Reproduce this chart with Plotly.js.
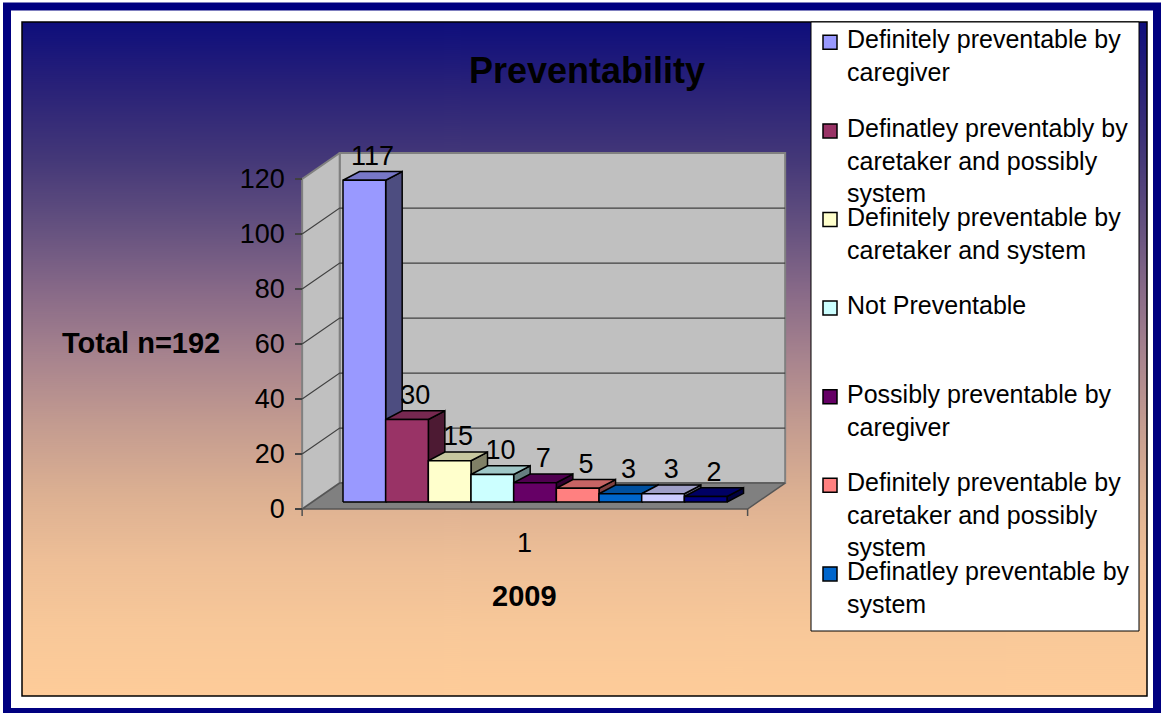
<!DOCTYPE html>
<html><head><meta charset="utf-8">
<script src="https://cdn.plot.ly/plotly-3.0.1.min.js"></script>
<style>html,body{margin:0;padding:0;background:#fff;}#chart{width:1163px;height:713px;}</style>
</head><body><div id="chart"></div>
<script>
// ---------- data ----------
const chartTitle = 'Preventability';
const categoryLabel = '1';
const yearLabel = '2009';
const totalLabel = 'Total n=192';
const seriesValues = [117, 30, 15, 10, 7, 5, 3, 3, 2];
const seriesColors = ['#9999FF', '#993366', '#FFFFCC', '#CCFFFF', '#660066', '#FF8080', '#0066CC', '#CCCCFF', '#000080'];
const legendNames = [
  'Definitely preventable by<br>caregiver',
  'Definatley preventably by<br>caretaker and possibly<br>system',
  'Definitely preventable by<br>caretaker and system',
  'Not Preventable',
  'Possibly preventable by<br>caregiver',
  'Definitely preventable by<br>caretaker and possibly<br>system',
  'Definatley preventable by<br>system'
];
const yTicks = [0, 20, 40, 60, 80, 100, 120];

// ---------- layout / geometry settings ----------
const W = 1163, H = 713;
const FONT = 'Liberation Sans, Arial, Helvetica, sans-serif';
const PXX = 42.67, PXY = 2.75;      // pixels per data unit
const ORIGX = 343, ORIGY = 502;     // pixel position of data origin
const xr = [-ORIGX / PXX, (W - ORIGX) / PXX];
const yr = [-(H - ORIGY) / PXY, ORIGY / PXY];
const DX = 0.88, DY = 9.45;         // full floor depth offsets
const FB = 0.27;                    // depth of bar plane
const GAP = 0.72;                   // floor gap at sides
const BDX = 0.387, BDY = 3.16;      // bar depth offsets
const yMax = yTicks[yTicks.length - 1];
const nBars = seriesValues.length;
const xl = -GAP, xrt = nBars + GAP;

function pt(x, v, d) { return [x + (d - FB) * DX, v + (d - FB) * DY]; }
function poly(points) {
  const xs = points.map(p => p[0]), ys = points.map(p => p[1]);
  xs.push(xs[0]); ys.push(ys[0]);
  return {x: xs, y: ys};
}
function shade(hex, f) {
  const n = parseInt(hex.slice(1), 16);
  const r = Math.round(((n >> 16) & 255) * f), g = Math.round(((n >> 8) & 255) * f), b = Math.round((n & 255) * f);
  return 'rgb(' + r + ',' + g + ',' + b + ')';
}
function face(points, fill, lineColor, lw) {
  const p = poly(points);
  return {type: 'scatter', mode: 'lines', x: p.x, y: p.y, fill: 'toself', fillcolor: fill,
    line: {color: lineColor, width: lw}, hoverinfo: 'skip', showlegend: false};
}

const traces = [];
// walls
traces.push(face([pt(xl, 0, 1), pt(xrt, 0, 1), pt(xrt, yMax, 1), pt(xl, yMax, 1)], '#C0C0C0', '#808080', 2));
traces.push(face([pt(xl, 0, 0), pt(xl, 0, 1), pt(xl, yMax, 1), pt(xl, yMax, 0)], '#C0C0C0', '#808080', 2));
traces.push(face([pt(xl, 0, 0), pt(xrt, 0, 0), pt(xrt, 0, 1), pt(xl, 0, 1)], '#808080', '#555555', 1.5));
// gridlines
const gx = [], gy = [];
yTicks.slice(1, -1).forEach(v => {
  const a = pt(xl, v, 0), b = pt(xl, v, 1), c = pt(xrt, v, 1);
  gx.push(a[0], b[0], c[0], null); gy.push(a[1], b[1], c[1], null);
});
traces.push({type: 'scatter', mode: 'lines', x: gx, y: gy, line: {color: '#404040', width: 1.2}, hoverinfo: 'skip', showlegend: false, connectgaps: false});
// bottom axis tick marks
const tickDrop = 7 / PXY;
const f0 = pt(xl, 0, 0), f1 = pt(xrt, 0, 0);
traces.push({type: 'scatter', mode: 'lines', x: [f0[0], f0[0], null, f1[0], f1[0]], y: [f0[1], f0[1] - tickDrop, null, f1[1], f1[1] - tickDrop],
  line: {color: '#505050', width: 1.5}, hoverinfo: 'skip', showlegend: false, connectgaps: false});
// bars
seriesValues.forEach((v, i) => {
  const c = seriesColors[i];
  traces.push(face([[i + 1, 0], [i + 1 + BDX, BDY], [i + 1 + BDX, v + BDY], [i + 1, v]], shade(c, 0.5), '#000', 1.5));
  traces.push(face([[i, v], [i + 1, v], [i + 1 + BDX, v + BDY], [i + BDX, v + BDY]], shade(c, 0.78), '#000', 1.5));
  traces.push(face([[i, 0], [i + 1, 0], [i + 1, v], [i, v]], c, '#000', 1.5));
});
// data labels
traces.push({type: 'scatter', mode: 'text', x: seriesValues.map((v, i) => i + 0.5 + BDX / 2), y: seriesValues.map(v => v + BDY),
  text: seriesValues.map(String), textposition: 'top center', textfont: {family: FONT, size: 27, color: '#000'},
  hoverinfo: 'skip', showlegend: false, cliponaxis: false});

// ---------- background gradient ----------
const cv = document.createElement('canvas'); cv.width = 4; cv.height = 674;
const ctx = cv.getContext('2d');
const grd = ctx.createLinearGradient(0, 0, 0, 674);
[[0, '#0e0e7c'], [0.1, '#2a2278'], [0.2, '#433778'], [0.3, '#63507f'], [0.4, '#886a88'], [0.5, '#a8848e'],
 [0.6, '#c49c90'], [0.7, '#dcb092'], [0.8, '#eebf97'], [0.9, '#f8c899'], [1, '#fecc99']].forEach(s => grd.addColorStop(s[0], s[1]));
ctx.fillStyle = grd; ctx.fillRect(0, 0, 4, 674);

const PX = px => px / W, PY = py => 1 - py / H;
const shapes = [
  {type: 'rect', xref: 'paper', yref: 'paper', x0: PX(7), x1: PX(1157), y0: PY(712), y1: PY(6.5), line: {color: '#000080', width: 8}, layer: 'above'},
  {type: 'rect', xref: 'paper', yref: 'paper', x0: PX(22), x1: PX(1147), y0: PY(696), y1: PY(22), line: {color: '#000', width: 1.5}, layer: 'above'},
  {type: 'rect', xref: 'paper', yref: 'paper', x0: PX(811), x1: PX(1139), y0: PY(631), y1: PY(22), fillcolor: '#fff', line: {color: '#000', width: 1}, layer: 'above'}
];
const LEG_BASE0 = 48.3, LEG_STEP = 88.6;
const annotations = [
  {text: '<b>' + chartTitle + '</b>', xref: 'paper', yref: 'paper', x: PX(587), y: PY(71), xanchor: 'center', yanchor: 'middle', showarrow: false, font: {family: FONT, size: 36, color: '#000'}},
  {text: '<b>' + totalLabel + '</b>', xref: 'paper', yref: 'paper', x: PX(141), y: PY(343), xanchor: 'center', yanchor: 'middle', showarrow: false, font: {family: FONT, size: 29, color: '#000'}},
  {text: categoryLabel, xref: 'x', yref: 'y', x: (f0[0] + f1[0]) / 2, y: f0[1] - 34 / PXY, xanchor: 'center', yanchor: 'middle', showarrow: false, font: {family: FONT, size: 27, color: '#000'}},
  {text: '<b>' + yearLabel + '</b>', xref: 'paper', yref: 'paper', x: PX(524), y: PY(596), xanchor: 'center', yanchor: 'middle', showarrow: false, font: {family: FONT, size: 29, color: '#000'}}
];
legendNames.forEach((name, k) => {
  const base = LEG_BASE0 + k * LEG_STEP;
  shapes.push({type: 'rect', xref: 'paper', yref: 'paper', x0: PX(823), x1: PX(837), y0: PY(base + 1), y1: PY(base - 13),
    fillcolor: seriesColors[k], line: {color: '#000', width: 1.5}, layer: 'above'});
  annotations.push({text: name, xref: 'paper', yref: 'paper', x: PX(845), y: PY(base - 25), xanchor: 'left', yanchor: 'top', align: 'left',
    showarrow: false, font: {family: FONT, size: 25, color: '#000'}});
});

const layout = {
  width: W, height: H, margin: {l: 0, r: 0, t: 0, b: 0, pad: 0},
  paper_bgcolor: '#fff', plot_bgcolor: 'rgba(0,0,0,0)', showlegend: false,
  xaxis: {range: xr, visible: false, fixedrange: true},
  yaxis: {range: yr, visible: false, fixedrange: true},
  yaxis2: {overlaying: 'y', anchor: 'free', side: 'left', position: (f0[0] - xr[0]) / (xr[1] - xr[0]),
    range: [yr[0] + FB * DY, yr[1] + FB * DY], tickvals: yTicks, ticks: 'outside', ticklen: 7, tickwidth: 1.2, tickcolor: '#404040',
    showgrid: false, zeroline: false, showline: false, ticklabelstandoff: 5, fixedrange: true,
    tickfont: {family: FONT, size: 27, color: '#000'}},
  images: [{source: cv.toDataURL(), xref: 'paper', yref: 'paper', x: PX(22), y: PY(22), sizex: 1125 / W, sizey: 674 / H,
    sizing: 'stretch', xanchor: 'left', yanchor: 'top', layer: 'below'}],
  shapes: shapes, annotations: annotations
};
// dummy trace on yaxis2 so the axis is drawn
traces.push({type: 'scatter', mode: 'markers', x: [xr[0]], y: [0], yaxis: 'y2', marker: {opacity: 0}, hoverinfo: 'skip', showlegend: false});
Plotly.newPlot('chart', traces, layout, {staticPlot: true, displayModeBar: false});
</script></body></html>
